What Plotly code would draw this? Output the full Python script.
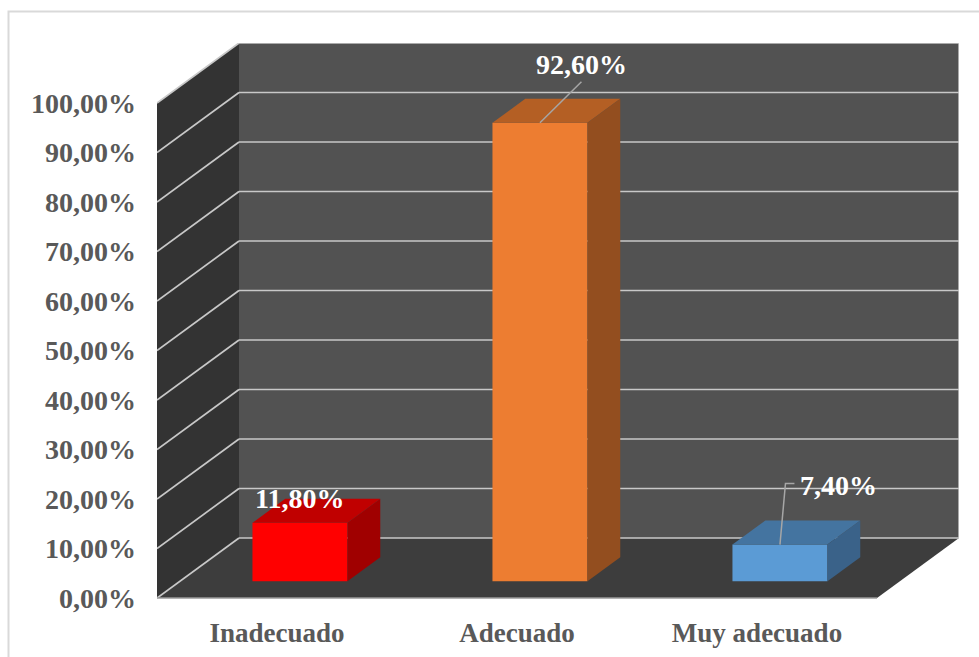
import plotly.graph_objects as go

# ---------------- data ----------------
categories = ["Inadecuado", "Adecuado", "Muy adecuado"]
values = [11.80, 92.60, 7.40]
value_labels = ["11,80%", "92,60%", "7,40%"]
y_tick_values = [0, 10, 20, 30, 40, 50, 60, 70, 80, 90, 100]
y_tick_labels = ["0,00%", "10,00%", "20,00%", "30,00%", "40,00%", "50,00%",
                 "60,00%", "70,00%", "80,00%", "90,00%", "100,00%"]

# ---------------- styles ----------------
front_colors = ["#FF0000", "#ED7D31", "#5B9BD5"]
top_colors = ["#C00000", "#B45F24", "#4474A0"]
side_colors = ["#A00000", "#934E1F", "#3A6289"]
LEFT_WALL = "#333333"
BACK_WALL = "#525252"
FLOOR = "#3D3D3D"
GRID = "#C8C8C8"
LEADER = "#A6A6A6"
TEXT_GRAY = "#595959"
FONT = "Liberation Serif, Times New Roman, serif"

# ---------------- geometry (layout) ----------------
W, H = 979, 657
ML, MR, MT, MB = 157, 20, 43, 57
PX_PER_CAT = 240.0
PX_PER_PCT = 4.95
DX = 82 / PX_PER_CAT            # depth vector of the box (x, axis units)
DY = 60 / PX_PER_PCT            # depth vector of the box (y, axis units)
BAR_F0 = 0.28                   # depth fraction where bar front face sits
BAR_DEPTH = 0.40                # bar depth as fraction of full depth
BAR_W = 95 / PX_PER_CAT
X0 = -0.5
X1 = len(categories) - 0.5
YMAX = max(y_tick_values)

plot_w = W - ML - MR
plot_h = H - MT - MB
x_range = [X0, X0 + plot_w / PX_PER_CAT]
y_bottom = -2 / PX_PER_PCT
y_range = [y_bottom, y_bottom + plot_h / PX_PER_PCT]

# label offsets (pixels, relative to bar front-top centre; +y = down)
label_offsets_px = [(0, -24), (41.5, -58), (58.5, -59)]
leader_paths_px = [None, [(0, 0), (41.5, -41)], [(0, 0), (5.5, -61), (14.5, -61)]]


def path(pts):
    return "M " + " L ".join(f"{x},{y}" for x, y in pts) + " Z"


def open_path(pts):
    return "M " + " L ".join(f"{x},{y}" for x, y in pts)


shapes = []
# walls and floor
shapes.append(dict(type="path", layer="below", line=dict(width=0), fillcolor=LEFT_WALL,
                   path=path([(X0, 0), (X0, YMAX), (X0 + DX, YMAX + DY), (X0 + DX, DY)])))
shapes.append(dict(type="path", layer="below", line=dict(width=0), fillcolor=BACK_WALL,
                   path=path([(X0 + DX, DY), (X0 + DX, YMAX + DY), (X1 + DX, YMAX + DY), (X1 + DX, DY)])))
shapes.append(dict(type="path", layer="below", line=dict(width=0), fillcolor=FLOOR,
                   path=path([(X0, 0), (X1, 0), (X1 + DX, DY), (X0 + DX, DY)])))
# gridlines on back and side walls
for v in y_tick_values:
    shapes.append(dict(type="line", layer="below", line=dict(color=GRID, width=1.7),
                       x0=X0 + DX, x1=X1 + DX, y0=v + DY, y1=v + DY))
    shapes.append(dict(type="line", layer="below", line=dict(color=GRID, width=1.7),
                       x0=X0, x1=X0 + DX, y0=v, y1=v + DY))
# back wall right edge and floor front edge
shapes.append(dict(type="line", layer="below", line=dict(color=GRID, width=1.5),
                   x0=X1 + DX, x1=X1 + DX, y0=DY, y1=YMAX + DY))
shapes.append(dict(type="line", layer="below", line=dict(color="#9A9A9A", width=1.5),
                   x0=X0, x1=X1, y0=0, y1=0))

# bar top and side faces
base = BAR_F0 * DY
off = BAR_F0 * DX - BAR_W / 2
ddx, ddy = BAR_DEPTH * DX, BAR_DEPTH * DY
annotations = []
for i, v in enumerate(values):
    L = i + off
    R = L + BAR_W
    t = base + v
    shapes.append(dict(type="path", layer="above", line=dict(width=0), fillcolor=top_colors[i],
                       path=path([(L, t), (R, t), (R + ddx, t + ddy), (L + ddx, t + ddy)])))
    shapes.append(dict(type="path", layer="above", line=dict(width=0), fillcolor=side_colors[i],
                       path=path([(R, base), (R, t), (R + ddx, t + ddy), (R + ddx, base + ddy)])))
    cx = (L + R) / 2
    if leader_paths_px[i]:
        pts = [(cx + px / PX_PER_CAT, t - py / PX_PER_PCT) for px, py in leader_paths_px[i]]
        shapes.append(dict(type="path", layer="above", line=dict(color=LEADER, width=1.5),
                           path=open_path(pts)))
    ox, oy = label_offsets_px[i]
    annotations.append(dict(x=cx, y=t, xref="x", yref="y", text=value_labels[i],
                            showarrow=False, xshift=ox, yshift=-oy,
                            xanchor="center", yanchor="middle",
                            font=dict(family=FONT, size=28, color="white", weight="bold")))

# chart border (top and left visible)
shapes.append(dict(type="rect", xref="paper", yref="paper", layer="below",
                   x0=(8.5 - ML) / plot_w, x1=(W + 20 - ML) / plot_w,
                   y0=(H - MB - (H + 20)) / plot_h, y1=(H - MB - 11.5) / plot_h,
                   line=dict(color="#D9D9D9", width=2), fillcolor="rgba(0,0,0,0)"))

fig = go.Figure()
fig.add_trace(go.Bar(
    x=list(range(len(categories))), y=values, base=[base] * len(values),
    width=BAR_W, offset=off,
    marker=dict(color=front_colors, line=dict(width=0)),
    hoverinfo="skip", showlegend=False,
))

fig.update_layout(
    width=W, height=H,
    margin=dict(l=ML, r=MR, t=MT, b=MB, pad=0, autoexpand=False),
    paper_bgcolor="white", plot_bgcolor="rgba(0,0,0,0)",
    shapes=shapes, annotations=annotations, showlegend=False,
    xaxis=dict(range=x_range, tickvals=list(range(len(categories))), ticktext=categories,
               showgrid=False, zeroline=False, showline=False, ticks="",
               automargin=False, ticklabelstandoff=14, fixedrange=True,
               tickfont=dict(family=FONT, size=27, color=TEXT_GRAY, weight="bold")),
    yaxis=dict(range=y_range, tickvals=y_tick_values, ticktext=y_tick_labels,
               showgrid=False, zeroline=False, showline=False, ticks="",
               automargin=False, ticklabelstandoff=20, fixedrange=True,
               tickfont=dict(family=FONT, size=28, color=TEXT_GRAY, weight="bold")),
)

fig.write_html("out.html")
